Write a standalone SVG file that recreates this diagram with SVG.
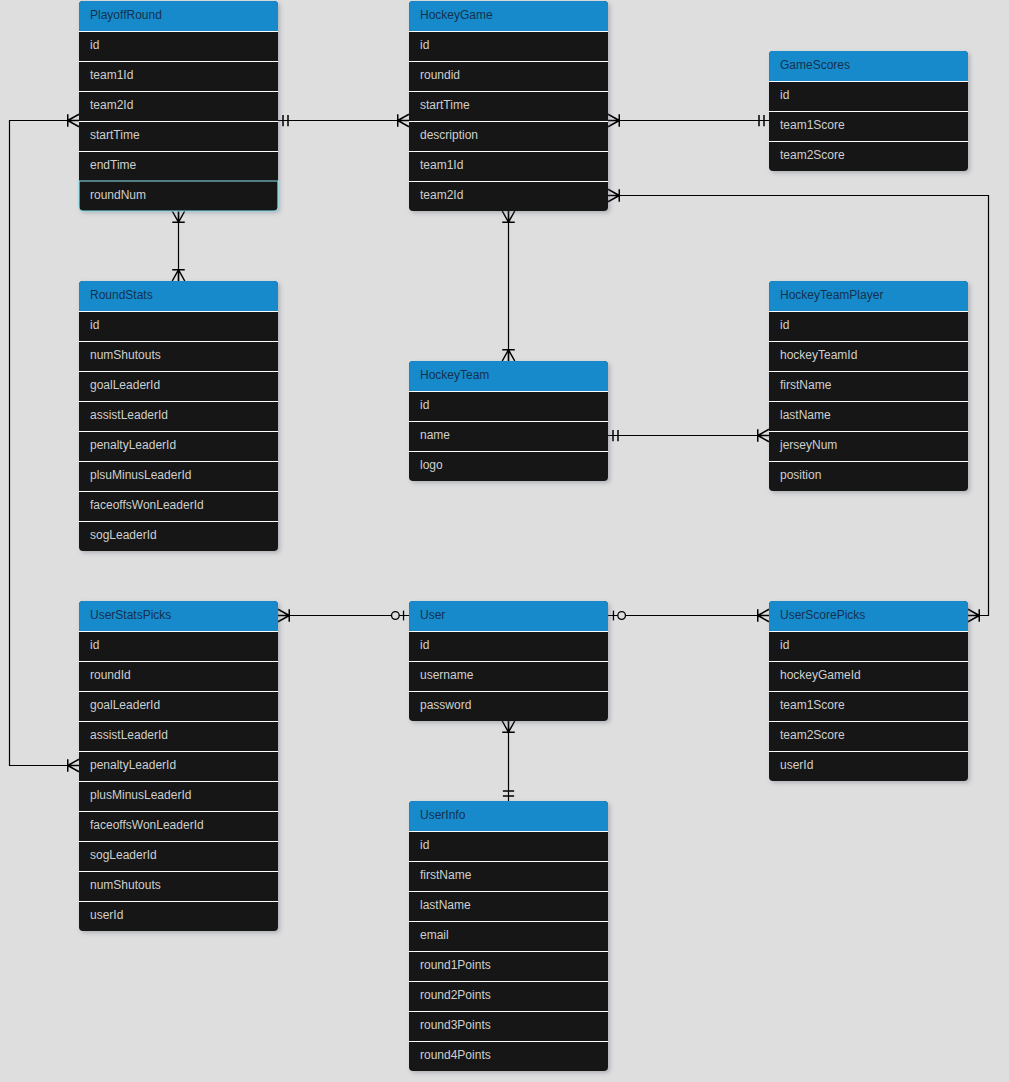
<svg xmlns="http://www.w3.org/2000/svg" width="1009" height="1082" viewBox="0 0 1009 1082">
<style>
.bg{fill:#dedede}
.tb{fill:#171717}
.hd{fill:#168acb}
.sep{stroke:#ffffff;stroke-width:1;shape-rendering:crispEdges}
.ht{font-family:"Liberation Sans",Arial,sans-serif;font-size:12px;fill:#14324f;transform:translate(0px,-1px)}
.rt{font-family:"Liberation Sans",Arial,sans-serif;font-size:12px;fill:#cfcfcf;transform:translate(0px,-1px)}
.conn path{fill:none;stroke:#000;stroke-width:1.2}
.mk{fill:none;stroke:#000;stroke-width:1.2}
</style>
<defs>
<filter id="sh" x="-10%" y="-10%" width="130%" height="130%">
<feDropShadow dx="2" dy="2" stdDeviation="2" flood-color="#556070" flood-opacity="0.35"/>
</filter>
<marker id="many" markerUnits="userSpaceOnUse" orient="auto-start-reverse" refX="0" refY="0" markerWidth="20" markerHeight="20" viewBox="-12 -8 14 16" overflow="visible">
<path class="mk" d="M-9,0 L0,-5 M-9,0 L0,0 M-9,0 L0,5 M-9,-5 V5"/>
</marker>
<marker id="one" markerUnits="userSpaceOnUse" orient="auto-start-reverse" refX="0" refY="0" markerWidth="20" markerHeight="20" viewBox="-12 -8 14 16" overflow="visible">
<path class="mk" d="M-4,-4.5 V4.5 M-8,-4.5 V4.5"/>
</marker>
<marker id="zone" markerUnits="userSpaceOnUse" orient="auto-start-reverse" refX="0" refY="0" markerWidth="24" markerHeight="20" viewBox="-20 -8 22 16" overflow="visible">
<path class="mk" d="M-5,-4.5 V4.5"/>
<circle cx="-12.5" cy="0" r="3.5" fill="#dedede" stroke="#000" stroke-width="1.2"/>
</marker>
</defs>
<rect class="bg" x="0" y="0" width="1009" height="1082"/>

<g id="connectors" class="conn">
<path d="M79,120.5 H9.5 V765.5 H79" marker-start="url(#many)" marker-end="url(#many)"/>
<path d="M278,120.5 H409" marker-start="url(#one)" marker-end="url(#many)"/>
<path d="M608,120.5 H769" marker-start="url(#many)" marker-end="url(#one)"/>
<path d="M608,195.5 H988.5 V615.5 H968" marker-start="url(#many)" marker-end="url(#many)"/>
<path d="M178.5,211 V281" marker-start="url(#many)" marker-end="url(#many)"/>
<path d="M508.5,211 V361" marker-start="url(#many)" marker-end="url(#many)"/>
<path d="M608,435.5 H769" marker-start="url(#one)" marker-end="url(#many)"/>
<path d="M278,615.5 H409" marker-start="url(#many)" marker-end="url(#zone)"/>
<path d="M608,615.5 H769" marker-start="url(#zone)" marker-end="url(#many)"/>
<path d="M508.5,721 V801" marker-start="url(#many)" marker-end="url(#one)"/>
</g>

<g id="PlayoffRound">
<rect class="tb" x="79" y="1" width="199" height="210" rx="4" filter="url(#sh)"/>
<rect class="hd" x="79" y="1" width="199" height="30" rx="4"/><rect class="hd" x="79" y="16" width="199" height="15"/>
<path class="sep" d="M79,31H278M79,61H278M79,91H278M79,121H278M79,151H278"/>
<path d="M79,181H278V207a4,4 0 0 1-4,4H83a4,4 0 0 1-4-4Z" fill="none" stroke="#86e6f0" stroke-width="1.2"/>
<text class="ht" x="90" y="20">PlayoffRound</text>
<text class="rt" x="90" y="50">id</text>
<text class="rt" x="90" y="80">team1Id</text>
<text class="rt" x="90" y="110">team2Id</text>
<text class="rt" x="90" y="140">startTime</text>
<text class="rt" x="90" y="170">endTime</text>
<text class="rt" x="90" y="200">roundNum</text>
</g>

<g id="HockeyGame">
<rect class="tb" x="409" y="1" width="199" height="210" rx="4" filter="url(#sh)"/>
<rect class="hd" x="409" y="1" width="199" height="30" rx="4"/><rect class="hd" x="409" y="16" width="199" height="15"/>
<path class="sep" d="M409,31H608M409,61H608M409,91H608M409,121H608M409,151H608M409,181H608"/>
<text class="ht" x="420" y="20">HockeyGame</text>
<text class="rt" x="420" y="50">id</text>
<text class="rt" x="420" y="80">roundid</text>
<text class="rt" x="420" y="110">startTime</text>
<text class="rt" x="420" y="140">description</text>
<text class="rt" x="420" y="170">team1Id</text>
<text class="rt" x="420" y="200">team2Id</text>
</g>

<g id="GameScores">
<rect class="tb" x="769" y="51" width="199" height="120" rx="4" filter="url(#sh)"/>
<rect class="hd" x="769" y="51" width="199" height="30" rx="4"/><rect class="hd" x="769" y="66" width="199" height="15"/>
<path class="sep" d="M769,81H968M769,111H968M769,141H968"/>
<text class="ht" x="780" y="70">GameScores</text>
<text class="rt" x="780" y="100">id</text>
<text class="rt" x="780" y="130">team1Score</text>
<text class="rt" x="780" y="160">team2Score</text>
</g>

<g id="RoundStats">
<rect class="tb" x="79" y="281" width="199" height="270" rx="4" filter="url(#sh)"/>
<rect class="hd" x="79" y="281" width="199" height="30" rx="4"/><rect class="hd" x="79" y="296" width="199" height="15"/>
<path class="sep" d="M79,311H278M79,341H278M79,371H278M79,401H278M79,431H278M79,461H278M79,491H278M79,521H278"/>
<text class="ht" x="90" y="300">RoundStats</text>
<text class="rt" x="90" y="330">id</text>
<text class="rt" x="90" y="360">numShutouts</text>
<text class="rt" x="90" y="390">goalLeaderId</text>
<text class="rt" x="90" y="420">assistLeaderId</text>
<text class="rt" x="90" y="450">penaltyLeaderId</text>
<text class="rt" x="90" y="480">plsuMinusLeaderId</text>
<text class="rt" x="90" y="510">faceoffsWonLeaderId</text>
<text class="rt" x="90" y="540">sogLeaderId</text>
</g>

<g id="HockeyTeam">
<rect class="tb" x="409" y="361" width="199" height="120" rx="4" filter="url(#sh)"/>
<rect class="hd" x="409" y="361" width="199" height="30" rx="4"/><rect class="hd" x="409" y="376" width="199" height="15"/>
<path class="sep" d="M409,391H608M409,421H608M409,451H608"/>
<text class="ht" x="420" y="380">HockeyTeam</text>
<text class="rt" x="420" y="410">id</text>
<text class="rt" x="420" y="440">name</text>
<text class="rt" x="420" y="470">logo</text>
</g>

<g id="HockeyTeamPlayer">
<rect class="tb" x="769" y="281" width="199" height="210" rx="4" filter="url(#sh)"/>
<rect class="hd" x="769" y="281" width="199" height="30" rx="4"/><rect class="hd" x="769" y="296" width="199" height="15"/>
<path class="sep" d="M769,311H968M769,341H968M769,371H968M769,401H968M769,431H968M769,461H968"/>
<text class="ht" x="780" y="300">HockeyTeamPlayer</text>
<text class="rt" x="780" y="330">id</text>
<text class="rt" x="780" y="360">hockeyTeamId</text>
<text class="rt" x="780" y="390">firstName</text>
<text class="rt" x="780" y="420">lastName</text>
<text class="rt" x="780" y="450">jerseyNum</text>
<text class="rt" x="780" y="480">position</text>
</g>

<g id="UserStatsPicks">
<rect class="tb" x="79" y="601" width="199" height="330" rx="4" filter="url(#sh)"/>
<rect class="hd" x="79" y="601" width="199" height="30" rx="4"/><rect class="hd" x="79" y="616" width="199" height="15"/>
<path class="sep" d="M79,631H278M79,661H278M79,691H278M79,721H278M79,751H278M79,781H278M79,811H278M79,841H278M79,871H278M79,901H278"/>
<text class="ht" x="90" y="620">UserStatsPicks</text>
<text class="rt" x="90" y="650">id</text>
<text class="rt" x="90" y="680">roundId</text>
<text class="rt" x="90" y="710">goalLeaderId</text>
<text class="rt" x="90" y="740">assistLeaderId</text>
<text class="rt" x="90" y="770">penaltyLeaderId</text>
<text class="rt" x="90" y="800">plusMinusLeaderId</text>
<text class="rt" x="90" y="830">faceoffsWonLeaderId</text>
<text class="rt" x="90" y="860">sogLeaderId</text>
<text class="rt" x="90" y="890">numShutouts</text>
<text class="rt" x="90" y="920">userId</text>
</g>

<g id="User">
<rect class="tb" x="409" y="601" width="199" height="120" rx="4" filter="url(#sh)"/>
<rect class="hd" x="409" y="601" width="199" height="30" rx="4"/><rect class="hd" x="409" y="616" width="199" height="15"/>
<path class="sep" d="M409,631H608M409,661H608M409,691H608"/>
<text class="ht" x="420" y="620">User</text>
<text class="rt" x="420" y="650">id</text>
<text class="rt" x="420" y="680">username</text>
<text class="rt" x="420" y="710">password</text>
</g>

<g id="UserScorePicks">
<rect class="tb" x="769" y="601" width="199" height="180" rx="4" filter="url(#sh)"/>
<rect class="hd" x="769" y="601" width="199" height="30" rx="4"/><rect class="hd" x="769" y="616" width="199" height="15"/>
<path class="sep" d="M769,631H968M769,661H968M769,691H968M769,721H968M769,751H968"/>
<text class="ht" x="780" y="620">UserScorePicks</text>
<text class="rt" x="780" y="650">id</text>
<text class="rt" x="780" y="680">hockeyGameId</text>
<text class="rt" x="780" y="710">team1Score</text>
<text class="rt" x="780" y="740">team2Score</text>
<text class="rt" x="780" y="770">userId</text>
</g>

<g id="UserInfo">
<rect class="tb" x="409" y="801" width="199" height="270" rx="4" filter="url(#sh)"/>
<rect class="hd" x="409" y="801" width="199" height="30" rx="4"/><rect class="hd" x="409" y="816" width="199" height="15"/>
<path class="sep" d="M409,831H608M409,861H608M409,891H608M409,921H608M409,951H608M409,981H608M409,1011H608M409,1041H608"/>
<text class="ht" x="420" y="820">UserInfo</text>
<text class="rt" x="420" y="850">id</text>
<text class="rt" x="420" y="880">firstName</text>
<text class="rt" x="420" y="910">lastName</text>
<text class="rt" x="420" y="940">email</text>
<text class="rt" x="420" y="970">round1Points</text>
<text class="rt" x="420" y="1000">round2Points</text>
<text class="rt" x="420" y="1030">round3Points</text>
<text class="rt" x="420" y="1060">round4Points</text>
</g>
</svg>
